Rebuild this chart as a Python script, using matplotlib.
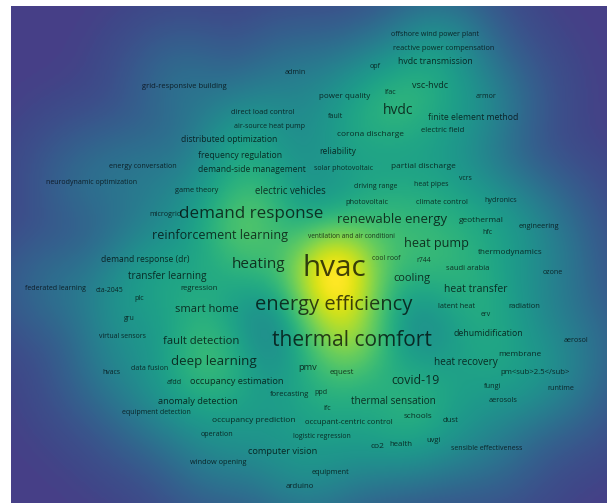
import numpy as np
import matplotlib
matplotlib.use("Agg")
import matplotlib.pyplot as plt
from matplotlib.colors import LinearSegmentedColormap

plt.rcParams['font.family'] = ['Open Sans', 'DejaVu Sans']

# Term map: labels, map coordinates (x to the right, y downward) and occurrences
labels = [
    "offshore wind power plant", "reactive power compensation", "hvdc transmission", "opf", "admin",
    "grid-responsive building", "vsc-hvdc", "power quality", "lfac", "armor",
    "hvdc", "fault", "finite element method", "direct load control", "air-source heat pump",
    "electric field", "corona discharge", "distributed optimization", "reliability", "frequency regulation",
    "energy conversation", "demand-side management", "solar photovoltaic", "partial discharge", "neurodynamic optimization",
    "vcrs", "game theory", "electric vehicles", "driving range", "heat pipes",
    "photovoltaic", "climate control", "hydronics", "microgrid", "demand response",
    "renewable energy", "geothermal", "engineering", "reinforcement learning", "ventilation and air conditioni",
    "hfc", "heat pump", "thermodynamics", "cool roof", "r744",
    "demand response (dr)", "heating", "hvac", "saudi arabia", "ozone",
    "transfer learning", "cooling", "federated learning", "cta-2045", "regression",
    "heat transfer", "plc", "smart home", "energy efficiency", "latent heat",
    "radiation", "erv", "gru", "virtual sensors", "fault detection",
    "thermal comfort", "dehumidification", "aerosol", "membrane", "heat recovery",
    "deep learning", "hvacs", "data fusion", "pmv", "equest",
    "pm<sub>2.5</sub>", "covid-19", "afdd", "occupancy estimation", "fungi",
    "runtime", "forecasting", "ppd", "anomaly detection", "thermal sensation",
    "aerosols", "ifc", "equipment detection", "schools", "dust",
    "occupancy prediction", "occupant-centric control", "operation", "logistic regression", "co2",
    "health", "uvgi", "sensible effectiveness", "computer vision", "window opening",
    "equipment", "arduino",
]

x = [
    424, 433, 424, 364, 284,
    173, 419, 334, 379, 475,
    387, 325, 462, 252, 259,
    432, 359, 218, 327, 229,
    132, 241, 333, 412, 81,
    454, 186, 279, 365, 420,
    356, 431, 490, 154, 240,
    381, 470, 528, 209, 340,
    476, 425, 499, 375, 413,
    134, 248, 323, 457, 542,
    156, 401, 44, 98, 188,
    465, 128, 196, 323, 446,
    513, 475, 118, 111, 190,
    341, 477, 565, 509, 455,
    203, 100, 139, 297, 331,
    524, 405, 163, 226, 482,
    550, 279, 310, 187, 382,
    492, 316, 145, 407, 440,
    243, 338, 206, 311, 366,
    390, 423, 476, 272, 207,
    320, 289,
]

y = [
    28, 42, 56, 61, 66,
    80, 80, 90, 86, 90,
    105, 111, 111, 107, 120,
    124, 129, 134, 145, 149,
    161, 164, 163, 161, 177,
    173, 185, 186, 180, 178,
    196, 196, 194, 208, 208,
    213, 214, 220, 230, 230,
    226, 238, 246, 253, 255,
    253, 259, 262, 263, 267,
    270, 272, 282, 285, 283,
    284, 293, 304, 299, 301,
    301, 309, 313, 331, 336,
    334, 327, 334, 349, 356,
    356, 367, 363, 362, 367,
    367, 375, 377, 376, 381,
    382, 389, 387, 395, 395,
    394, 403, 407, 410, 414,
    414, 417, 429, 431, 441,
    439, 435, 442, 445, 456,
    467, 481,
]

occurrences = [
    3.1, 3.5, 6.3, 3.1, 3.1,
    4.0, 7.0, 4.5, 3.1, 3.1,
    29, 3.1, 6.0, 3.7, 2.9,
    4.2, 5.0, 5.6, 5.6, 6.0,
    3.1, 5.6, 2.9, 5.0, 2.9,
    2.7, 3.5, 8.5, 2.9, 2.9,
    3.7, 3.7, 3.1, 3.1, 57,
    24, 5.0, 3.5, 20, 2.3,
    2.9, 21, 4.7, 2.7, 2.7,
    5.6, 39, 364, 4.0, 3.1,
    9.4, 13, 2.9, 2.7, 4.2,
    11, 3.1, 13.5, 99, 3.5,
    4.0, 2.7, 2.7, 2.7, 14.5,
    114, 6.3, 3.1, 5.0, 9.4,
    25, 2.7, 2.9, 7.3, 4.2,
    4.2, 19, 3.1, 7.3, 3.5,
    3.1, 4.0, 3.1, 7.3, 9.4,
    3.5, 3.1, 2.9, 4.7, 4.2,
    5.3, 4.2, 3.1, 2.7, 5.3,
    4.2, 4.0, 2.9, 7.3, 3.5,
    3.5, 4.2,
]

MAP_W, MAP_H = 596, 497

px = np.asarray(x, float)
py = np.asarray(y, float)
w = np.asarray(occurrences, float)

# Kernel density of the items, each weighted by a damped occurrence count
gx = np.arange(0, MAP_W, 2.0) + 1.0
gy = np.arange(0, MAP_H, 2.0) + 1.0
GX, GY = np.meshgrid(gx, gy)
sigma = 33.0
dens = np.zeros_like(GX)
for xi, yi, wi in zip(px, py, w):
    dens += wi ** 0.6 * np.exp(-((GX - xi) ** 2 + (GY - yi) ** 2) / (2 * sigma ** 2))
dens = (dens / dens.max()) ** 0.55

vir = plt.get_cmap("viridis")
cols = [(0.275, 0.25, 0.53)] + [vir(t) for t in np.linspace(0.2, 1.0, 60)[1:]]
cmap = LinearSegmentedColormap.from_list("density", cols)

fig = plt.figure(figsize=(6.10, 5.04), dpi=100)
ax = fig.add_axes([11 / 610, 1 / 504, 596 / 610, 497 / 504])
ax.imshow(dens, cmap=cmap, vmin=0, vmax=1, extent=(0, MAP_W, MAP_H, 0),
          interpolation="bilinear", aspect="auto")
ax.set_xlim(0, MAP_W)
ax.set_ylim(MAP_H, 0)
ax.axis("off")


def label_size(n):
    return 4.5 * (n / 2.0) ** 0.3


for lab, xi, yi, wi in zip(labels, px, py, w):
    ax.text(xi, yi, lab, ha="center", va="center", fontsize=label_size(wi),
            color="black", alpha=0.72)

fig.savefig("out.png", dpi=100)
